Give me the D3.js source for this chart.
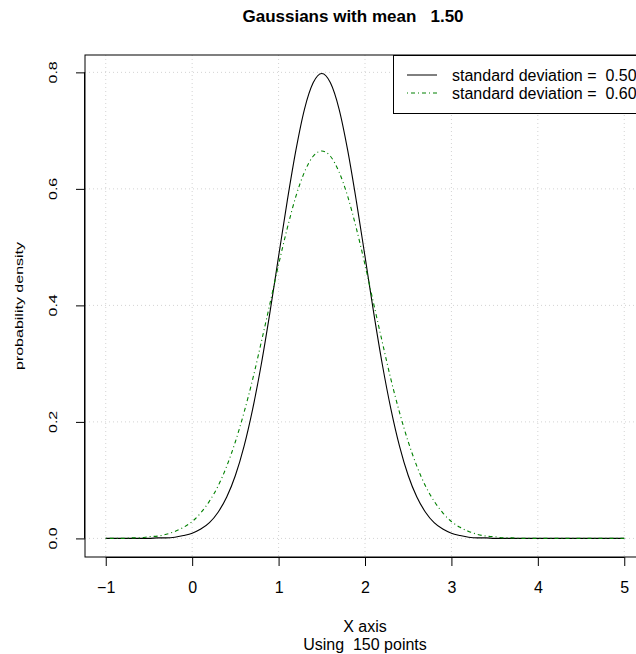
<!DOCTYPE html>
<html>
<head>
<meta charset="utf-8">
<script src="https://cdn.jsdelivr.net/npm/d3@7"></script>
<style>
  body { margin: 0; background: #fff; }
  text { font-family: "Liberation Sans", Arial, Helvetica, sans-serif; }
</style>
</head>
<body>
<div id="chart"></div>
<script>
// Data (x from -1 to 5 in steps of 0.1)
const xValues = [
  -1.0, -0.9, -0.8, -0.7, -0.6, -0.5, -0.4, -0.3, -0.2, -0.1,
  0.0, 0.1, 0.2, 0.3, 0.4, 0.5, 0.6, 0.7, 0.8, 0.9,
  1.0, 1.1, 1.2, 1.3, 1.4, 1.5, 1.6, 1.7, 1.8, 1.9,
  2.0, 2.1, 2.2, 2.3, 2.4, 2.5, 2.6, 2.7, 2.8, 2.9,
  3.0, 3.1, 3.2, 3.3, 3.4, 3.5, 3.6, 3.7, 3.8, 3.9,
  4.0, 4.1, 4.2, 4.3, 4.4, 4.5, 4.6, 4.7, 4.8, 4.9, 5.0
];
const sd050 = [
  0.000, 0.000, 0.000, 0.000, 0.000, 0.000, 0.001, 0.001, 0.002, 0.005,
  0.009, 0.016, 0.027, 0.045, 0.071, 0.108, 0.158, 0.222, 0.299, 0.388,
  0.484, 0.579, 0.666, 0.737, 0.782, 0.798, 0.782, 0.737, 0.666, 0.579,
  0.484, 0.388, 0.299, 0.222, 0.158, 0.108, 0.071, 0.045, 0.027, 0.016,
  0.009, 0.005, 0.002, 0.001, 0.001, 0.000, 0.000, 0.000, 0.000, 0.000,
  0.000, 0.000, 0.000, 0.000, 0.000, 0.000, 0.000, 0.000, 0.000, 0.000, 0.000
];
const sd060 = [
  0.000, 0.000, 0.000, 0.001, 0.001, 0.003, 0.004, 0.007, 0.012, 0.019,
  0.029, 0.044, 0.064, 0.090, 0.124, 0.166, 0.216, 0.273, 0.337, 0.403,
  0.470, 0.532, 0.587, 0.629, 0.656, 0.665, 0.656, 0.629, 0.587, 0.532,
  0.470, 0.403, 0.337, 0.273, 0.216, 0.166, 0.124, 0.090, 0.064, 0.044,
  0.029, 0.019, 0.012, 0.007, 0.004, 0.003, 0.001, 0.001, 0.000, 0.000,
  0.000, 0.000, 0.000, 0.000, 0.000, 0.000, 0.000, 0.000, 0.000, 0.000, 0.000
];
const xTicks = [-1, 0, 1, 2, 3, 4, 5];
const yTicks = [0.0, 0.2, 0.4, 0.6, 0.8];
const legendLabels = ["standard deviation =  0.50", "standard deviation =  0.60"];

const width = 636, height = 654;
const box = { left: 85, right: 645, top: 55, bottom: 557 };

const svg = d3.select("#chart").append("svg")
  .attr("width", width)
  .attr("height", height);

// R-style 4% padding on the data range
const x = d3.scaleLinear().domain([-1.24, 5.24]).range([box.left, box.right]);
const y = d3.scaleLinear().domain([-0.0319, 0.8298]).range([box.bottom, box.top]);

// Grid
svg.append("g")
  .selectAll("line")
  .data(xTicks)
  .join("line")
  .attr("x1", d => x(d)).attr("x2", d => x(d))
  .attr("y1", box.top).attr("y2", box.bottom)
  .attr("stroke", "#d3d3d3")
  .attr("stroke-dasharray", "1 3");
svg.append("g")
  .selectAll("line")
  .data(yTicks)
  .join("line")
  .attr("x1", box.left).attr("x2", box.right)
  .attr("y1", d => y(d)).attr("y2", d => y(d))
  .attr("stroke", "#d3d3d3")
  .attr("stroke-dasharray", "1 3");

// Plot box
svg.append("rect")
  .attr("x", box.left).attr("y", box.top)
  .attr("width", box.right - box.left).attr("height", box.bottom - box.top)
  .attr("fill", "none")
  .attr("stroke", "#000");

// Axes
const xAxis = svg.append("g")
  .attr("transform", `translate(0,${box.bottom})`)
  .call(d3.axisBottom(x).tickValues(xTicks).tickSize(9).tickPadding(0)
    .tickFormat(d => d < 0 ? "\u2212" + Math.abs(d) : d));
xAxis.select(".domain").attr("d", `M${x(-1)},0.5H${x(5)}`);
xAxis.selectAll("text")
  .attr("font-size", 16).attr("font-family", null).attr("fill", "#000")
  .attr("dy", null).attr("y", 36);

const yAxis = svg.append("g")
  .attr("transform", `translate(${box.left},0)`)
  .call(d3.axisLeft(y).tickValues(yTicks).tickSize(9).tickFormat(d3.format(".1f")));
yAxis.select(".domain").attr("d", `M-0.5,${y(0)}V${y(0.8)}`);
yAxis.selectAll(".tick").attr("transform", null);
yAxis.selectAll(".tick line").attr("y1", d => y(d) + 0.5).attr("y2", d => y(d) + 0.5);
yAxis.selectAll("text")
  .attr("font-size", 16).attr("font-family", null).attr("fill", "#000")
  .attr("x", null).attr("dy", null).attr("y", 0)
  .attr("text-anchor", "middle")
  .attr("transform", d => `translate(-28,${y(d)}) rotate(-90) scale(1,0.72)`);

// Curves
const line = d3.line()
  .x((d, i) => x(xValues[i]))
  .y(d => y(d))
  .curve(d3.curveMonotoneX);

svg.append("path")
  .datum(sd050)
  .attr("fill", "none")
  .attr("stroke", "#000")
  .attr("stroke-width", 1.1)
  .attr("d", line);

svg.append("path")
  .datum(sd060)
  .attr("fill", "none")
  .attr("stroke", "#008000")
  .attr("stroke-width", 1.1)
  .attr("stroke-dasharray", "1 3 4 3")
  .attr("d", line);

// Legend
const legend = svg.append("g");
legend.append("rect")
  .attr("x", 393.5).attr("y", box.top + 0.5)
  .attr("width", 260).attr("height", 58)
  .attr("fill", "#fff")
  .attr("stroke", "#000");
const styles = [
  { color: "#000", dash: null },
  { color: "#008000", dash: "1 3 4 3" }
];
legendLabels.forEach((label, i) => {
  const ly = 75 + i * 18;
  legend.append("line")
    .attr("x1", 407).attr("x2", 437)
    .attr("y1", ly).attr("y2", ly)
    .attr("stroke", styles[i].color)
    .attr("stroke-dasharray", styles[i].dash);
  legend.append("text")
    .attr("x", 452).attr("y", ly + 6)
    .attr("font-size", 16)
    .style("white-space", "pre")
    .text(label);
});

// Titles
svg.append("text")
  .attr("x", 353).attr("y", 22)
  .attr("text-anchor", "middle")
  .attr("font-size", 17)
  .attr("font-weight", "bold")
  .style("white-space", "pre")
  .text("Gaussians with mean   1.50");

svg.append("text")
  .attr("x", 365).attr("y", 632)
  .attr("text-anchor", "middle")
  .attr("font-size", 16)
  .text("X axis");
svg.append("text")
  .attr("x", 365).attr("y", 650)
  .attr("text-anchor", "middle")
  .attr("font-size", 16)
  .style("white-space", "pre")
  .text("Using  150 points");

svg.append("text")
  .attr("transform", `translate(22.5,${(box.top + box.bottom) / 2}) rotate(-90) scale(1,0.72)`)
  .attr("text-anchor", "middle")
  .attr("font-size", 16)
  .text("probability density");
</script>
</body>
</html>
